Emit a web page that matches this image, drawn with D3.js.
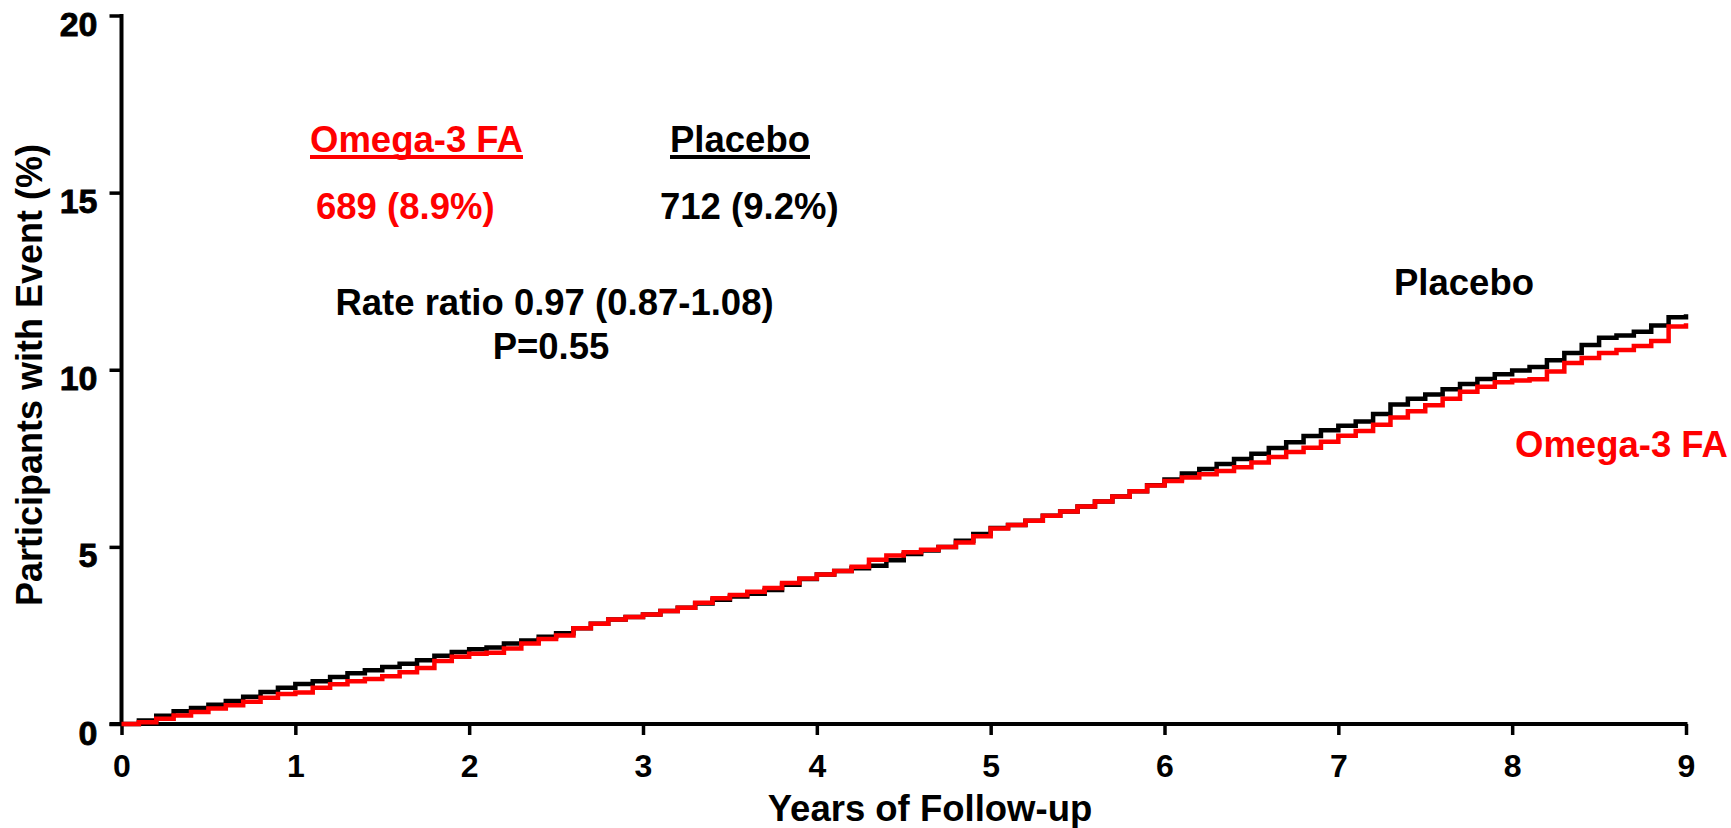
<!DOCTYPE html>
<html>
<head>
<meta charset="utf-8">
<script src="https://cdn.jsdelivr.net/npm/d3@7"></script>
<style>
  html, body { margin: 0; padding: 0; background: #fff; }
  svg { display: block; }
  text { font-family: "Liberation Sans", Arial, Helvetica, sans-serif; font-weight: bold; }
</style>
</head>
<body>
<svg id="chart" width="1731" height="828"></svg>
<script>
// Follow-up time grid (years) and cumulative percentage of participants with an event
const years = d3.range(0, 91).map(i => +(i / 10).toFixed(1));

const placebo = [
  0, 0.10, 0.23, 0.36, 0.45, 0.54, 0.65, 0.77, 0.90, 1.02,
  1.13, 1.21, 1.33, 1.43, 1.52, 1.61, 1.70, 1.80, 1.93, 2.03,
  2.11, 2.16, 2.27, 2.36, 2.46, 2.56, 2.70, 2.83, 2.95, 3.02,
  3.09, 3.19, 3.28, 3.40, 3.51, 3.60, 3.68, 3.78, 3.93, 4.09,
  4.22, 4.32, 4.40, 4.47, 4.62, 4.80, 4.90, 5.00, 5.17, 5.36,
  5.53, 5.62, 5.74, 5.88, 6.00, 6.14, 6.28, 6.42, 6.57, 6.74,
  6.90, 7.07, 7.20, 7.34, 7.48, 7.63, 7.79, 7.95, 8.13, 8.29,
  8.42, 8.54, 8.75, 9.02, 9.18, 9.30, 9.45, 9.60, 9.74, 9.87,
  9.98, 10.08, 10.27, 10.47, 10.70, 10.90, 10.97, 11.07, 11.25, 11.48,
  11.57
];

const omega3 = [
  0, 0.05, 0.15, 0.24, 0.34, 0.44, 0.53, 0.63, 0.74, 0.85,
  0.89, 1.02, 1.12, 1.21, 1.27, 1.35, 1.46, 1.58, 1.78, 1.90,
  1.98, 2.01, 2.13, 2.27, 2.40, 2.50, 2.70, 2.83, 2.95, 3.02,
  3.09, 3.19, 3.28, 3.42, 3.55, 3.64, 3.73, 3.84, 3.98, 4.11,
  4.22, 4.32, 4.44, 4.64, 4.76, 4.85, 4.92, 5.00, 5.12, 5.30,
  5.52, 5.62, 5.74, 5.88, 6.00, 6.14, 6.28, 6.42, 6.57, 6.73,
  6.86, 6.96, 7.05, 7.14, 7.25, 7.38, 7.54, 7.68, 7.80, 7.97,
  8.14, 8.27, 8.45, 8.65, 8.83, 9.00, 9.18, 9.38, 9.52, 9.65,
  9.70, 9.73, 9.95, 10.19, 10.33, 10.47, 10.56, 10.67, 10.81, 11.22,
  11.31
];

const xTicks = [0, 1, 2, 3, 4, 5, 6, 7, 8, 9];
const yTicks = [0, 5, 10, 15, 20];

const RED = "#ff0000";
const BLACK = "#000000";

const svg = d3.select("#chart");

const x = d3.scaleLinear().domain([0, 9]).range([121.5, 1686]);
const y = d3.scaleLinear().domain([0, 20]).range([724, 15.5]);

// Axes
const xAxis = svg.append("g")
  .attr("transform", `translate(0,${y(0)})`)
  .call(d3.axisBottom(x).tickValues(xTicks).tickSize(11).tickSizeOuter(0).tickFormat(d3.format("d")));
xAxis.select(".domain").attr("stroke", BLACK).attr("stroke-width", 4)
  .attr("d", `M${x(0) - 12},0H${x(9) + 1.5}`);
xAxis.selectAll(".tick line").attr("stroke", BLACK).attr("stroke-width", 3.5);
xAxis.selectAll(".tick text")
  .attr("fill", BLACK).attr("font-size", 32)
  .attr("font-family", "'Liberation Sans', Arial, sans-serif").attr("font-weight", "bold")
  .attr("y", 53).attr("dy", 0);

const yAxis = svg.append("g")
  .attr("transform", `translate(${x(0)},0)`)
  .call(d3.axisLeft(y).tickValues(yTicks).tickSize(12).tickSizeOuter(0).tickFormat(d3.format("d")));
yAxis.select(".domain").attr("stroke", BLACK).attr("stroke-width", 4)
  .attr("d", `M0,${y(20) - 1.5}V${y(0) + 2}`);
yAxis.selectAll(".tick line").attr("stroke", BLACK).attr("stroke-width", 3.5);
yAxis.selectAll(".tick text")
  .attr("fill", BLACK).attr("font-size", 34)
  .attr("stroke", BLACK).attr("stroke-width", 0.8)
  .attr("font-family", "'Liberation Sans', Arial, sans-serif").attr("font-weight", "bold")
  .attr("x", -24).attr("dy", 0).attr("y", 20);

// Cumulative incidence step curves
const line = d3.line()
  .x((d, i) => x(years[i]))
  .y(d => y(d))
  .curve(d3.curveStepAfter);

svg.append("path").datum(placebo)
  .attr("d", line).attr("fill", "none")
  .attr("stroke", BLACK).attr("stroke-width", 4.5);

svg.append("path").datum(omega3)
  .attr("d", line).attr("fill", "none")
  .attr("stroke", RED).attr("stroke-width", 4.5);

// Axis titles
svg.append("text")
  .attr("x", 930).attr("y", 821)
  .attr("text-anchor", "middle").attr("font-size", 36.5).attr("fill", BLACK)
  .text("Years of Follow-up");

svg.append("text")
  .attr("transform", "translate(42,375) rotate(-90)")
  .attr("text-anchor", "middle").attr("font-size", 36).attr("fill", BLACK)
  .text("Participants with Event (%)");

// Group headers with underline
function underlined(tx, ty, label, color) {
  const t = svg.append("text")
    .attr("x", tx).attr("y", ty)
    .attr("font-size", 36.5).attr("fill", color)
    .text(label);
  const w = t.node().getComputedTextLength();
  svg.append("line")
    .attr("x1", tx).attr("x2", tx + w)
    .attr("y1", ty + 5).attr("y2", ty + 5)
    .attr("stroke", color).attr("stroke-width", 4);
}
underlined(310, 152, "Omega-3 FA", RED);
underlined(670, 152, "Placebo", BLACK);

// Event counts
svg.append("text").attr("x", 316).attr("y", 219)
  .attr("font-size", 36.5).attr("fill", RED).text("689 (8.9%)");
svg.append("text").attr("x", 660).attr("y", 219)
  .attr("font-size", 36.5).attr("fill", BLACK).text("712 (9.2%)");

// Rate ratio summary
svg.append("text").attr("x", 554.5).attr("y", 315)
  .attr("text-anchor", "middle").attr("font-size", 36.5).attr("fill", BLACK)
  .text("Rate ratio 0.97 (0.87-1.08)");
svg.append("text").attr("x", 551).attr("y", 359)
  .attr("text-anchor", "middle").attr("font-size", 36.5).attr("fill", BLACK)
  .text("P=0.55");

// Curve labels
svg.append("text").attr("x", 1394).attr("y", 295)
  .attr("font-size", 36.5).attr("fill", BLACK).text("Placebo");
svg.append("text").attr("x", 1515).attr("y", 457)
  .attr("font-size", 36.5).attr("fill", RED).text("Omega-3 FA");
</script>
</body>
</html>
